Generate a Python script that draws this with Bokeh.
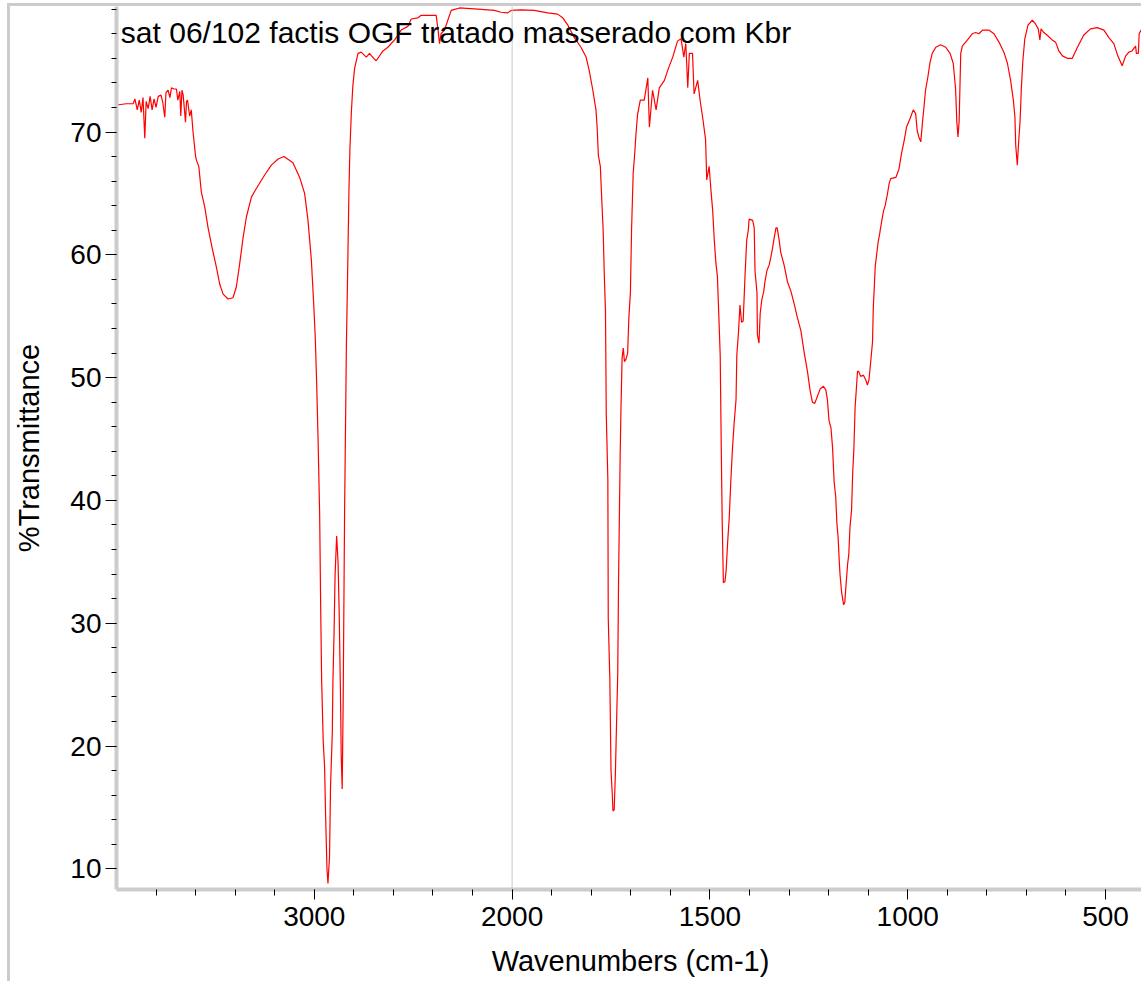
import numpy as np
from bokeh.plotting import figure
from bokeh.models import Range1d, FixedTicker, Span, Label
from bokeh.embed import file_html
from bokeh.resources import INLINE

# ---- data ----
wavenumbers = [
    4000, 3950, 3916, 3907, 3895, 3885, 3875, 3866, 3857, 3850, 3840, 3830, 3820, 3810, 3800,
    3789, 3775, 3766, 3756, 3750, 3739, 3730, 3722, 3710, 3697, 3690, 3680, 3675, 3669, 3663,
    3651, 3646, 3641, 3630, 3622, 3613, 3600, 3596, 3584, 3571, 3554, 3537, 3517, 3495, 3478,
    3461, 3436, 3411, 3394, 3377, 3360, 3343, 3318, 3293, 3251, 3217, 3183, 3153, 3108, 3074,
    3049, 3032, 3015, 3003, 2995, 2988, 2981, 2973, 2968, 2963, 2955, 2948, 2943, 2936, 2931,
    2923, 2918, 2909, 2906, 2900, 2895, 2887, 2880, 2874, 2870, 2867, 2864, 2859, 2854, 2847,
    2838, 2830, 2825, 2820, 2813, 2805, 2796, 2779, 2763, 2737, 2721, 2700, 2687, 2653, 2628,
    2594, 2561, 2527, 2510, 2476, 2460, 2400, 2384, 2375, 2367, 2359, 2342, 2325, 2308, 2266,
    2173, 2089, 2056, 2022, 2005, 1977, 1944, 1910, 1885, 1872, 1859, 1843, 1826, 1813, 1805,
    1796, 1788, 1785, 1782, 1777, 1773, 1770, 1767, 1764, 1762, 1758, 1757, 1753, 1750, 1747,
    1745, 1742, 1739, 1737, 1733, 1731, 1727, 1725, 1722, 1719, 1716, 1712, 1708, 1705, 1701,
    1698, 1694, 1690, 1687, 1683, 1676, 1666, 1657, 1653, 1645, 1636, 1628, 1615, 1607, 1594,
    1582, 1573, 1566, 1561, 1556, 1552, 1544, 1540, 1531, 1524, 1518, 1511, 1508, 1502, 1497,
    1493, 1489, 1485, 1481, 1477, 1474, 1471, 1469, 1466, 1462, 1459, 1455, 1451, 1447, 1443,
    1439, 1434, 1432, 1428, 1424, 1420, 1416, 1413, 1411, 1407, 1403, 1401, 1392, 1388, 1386,
    1381, 1380, 1376, 1373, 1369, 1364, 1361, 1356, 1350, 1346, 1342, 1338, 1333, 1330, 1325,
    1321, 1312, 1304, 1295, 1287, 1279, 1270, 1262, 1253, 1247, 1241, 1235, 1228, 1221, 1213,
    1207, 1203, 1199, 1194, 1190, 1186, 1182, 1179, 1176, 1173, 1171, 1167, 1162, 1159, 1156,
    1152, 1149, 1146, 1142, 1139, 1136, 1133, 1130, 1127, 1124, 1119, 1112, 1106, 1102, 1098,
    1093, 1089, 1087, 1082, 1079, 1075, 1071, 1066, 1061, 1057, 1051, 1047, 1043, 1030, 1022,
    1016, 1009, 1003, 994, 986, 980, 976, 972, 967, 963, 959, 955, 949, 944, 938,
    929, 917, 904, 893, 885, 879, 876, 873, 870, 866, 862, 849, 837, 828, 820,
    811, 795, 782, 769, 757, 748, 740, 733, 729, 727, 723, 720, 716, 713, 709,
    704, 696, 685, 677, 670, 666, 663, 656, 648, 635, 626, 618, 609, 597, 584,
    571, 555, 538, 521, 504, 492, 479, 469, 458, 449, 441, 433, 424, 422, 417,
    415, 410, 407, 403, 400,
]
transmittance = [
    72.2, 72.3, 72.3, 72.7, 71.8, 72.6, 71.6, 72.8, 69.5, 72.5, 71.9, 72.9, 71.8, 72.7, 72.0,
    72.9, 73.0, 72.4, 71.2, 73.2, 73.4, 72.8, 73.6, 73.5, 73.5, 72.6, 73.3, 71.3, 73.4, 73.0,
    70.8, 72.5, 72.6, 71.3, 71.8, 70.0, 68.0, 67.7, 67.2, 65.1, 63.9, 62.2, 60.6, 59.0, 57.6,
    56.8, 56.4, 56.5, 57.4, 59.3, 61.4, 63.1, 64.7, 65.4, 66.5, 67.3, 67.8, 68.0, 67.5, 66.3,
    65.0, 62.8, 59.6, 56.0, 53.2, 49.5, 45.0, 38.9, 31.6, 25.4, 20.4, 18.3, 14.4, 10.0, 8.8,
    11.0, 16.7, 21.1, 25.2, 29.3, 33.9, 37.1, 35.0, 30.7, 26.6, 23.4, 19.2, 16.5, 23.8, 38.9,
    52.3, 60.0, 65.1, 68.6, 71.5, 73.8, 75.2, 76.4, 76.5, 76.1, 76.4, 76.0, 75.8, 76.6, 76.9,
    77.5, 78.3, 78.6, 79.2, 79.3, 79.5, 79.5, 79.5, 78.4, 77.2, 78.0, 78.3, 79.1, 79.9, 80.1,
    80.0, 79.9, 79.75, 79.7, 79.9, 79.95, 79.9, 79.7, 79.6, 79.3, 78.7, 77.7, 76.9, 76.1, 75.0,
    73.4, 71.8, 70.3, 68.1, 67.2, 64.2, 62.1, 58.4, 55.4, 47.0, 41.7, 30.4, 25.5, 18.0, 16.2,
    14.7, 14.8, 17.7, 20.5, 25.9, 33.3, 43.4, 47.2, 51.6, 52.4, 51.3, 51.5, 52.0, 54.8, 56.9,
    62.1, 66.6, 68.3, 69.8, 71.4, 72.6, 72.6, 74.4, 70.4, 73.4, 71.8, 73.6, 74.2, 75.0, 76.1,
    77.4, 77.6, 76.1, 77.2, 73.6, 76.4, 76.4, 73.1, 74.2, 72.4, 71.1, 69.4, 66.1, 67.2, 65.1,
    63.6, 61.2, 59.4, 58.2, 54.6, 51.8, 43.4, 38.4, 33.3, 33.4, 34.3, 36.7, 38.7, 41.7, 44.2,
    46.2, 48.2, 51.8, 53.6, 55.9, 54.5, 54.6, 56.9, 58.5, 61.2, 62.0, 62.9, 62.8, 62.2, 58.7,
    56.9, 53.5, 52.8, 55.2, 56.3, 57.0, 57.8, 58.7, 59.2, 59.8, 60.5, 61.3, 62.2, 62.2, 61.2,
    60.2, 59.1, 57.8, 57.0, 56.0, 54.9, 53.8, 52.1, 50.4, 49.0, 48.0, 47.9, 48.5, 49.1, 49.3,
    49.0, 48.2, 46.5, 45.9, 44.3, 41.5, 40.3, 38.1, 37.0, 35.0, 33.9, 32.5, 31.5, 31.7, 33.1,
    34.8, 35.6, 37.8, 39.2, 42.3, 44.3, 47.6, 49.0, 50.5, 50.5, 50.1, 50.2, 49.8, 49.4, 49.8,
    51.5, 52.9, 55.7, 59.1, 59.9, 61.0, 61.7, 62.7, 63.6, 64.0, 65.0, 65.8, 66.2, 66.3, 67.0,
    68.2, 69.3, 70.4, 71.1, 71.8, 71.5, 70.1, 69.6, 69.2, 70.7, 72.0, 73.4, 74.5, 75.6, 76.4,
    76.9, 77.1, 76.9, 76.4, 75.6, 73.5, 70.9, 69.6, 70.9, 76.4, 77.0, 77.5, 78.0, 78.1, 78.0,
    78.3, 78.3, 78.0, 77.3, 76.5, 75.6, 74.2, 72.6, 71.2, 68.9, 67.3, 69.0, 70.9, 73.4, 75.8,
    77.6, 78.7, 79.1, 78.8, 78.4, 77.5, 78.4, 78.1, 77.9, 77.5, 77.3, 76.6, 76.2, 76.0, 76.0,
    76.9, 77.9, 78.4, 78.5, 78.3, 77.7, 77.2, 76.2, 75.4, 76.2, 76.5, 76.6, 77.0, 76.4, 76.4,
    78.0, 78.3, 77.8, 78.7, 78.7,
]
x_major_ticks = [3000, 2000, 1500, 1000, 500]
y_major_ticks = [10, 20, 30, 40, 50, 60, 70]
chart_title = "sat 06/102 factis OGF tratado masserado com Kbr"
x_label = "Wavenumbers (cm-1)"
y_label = "%Transmittance"
break_at = 2000  # scale is compressed 2x above this wavenumber


def expand(wn):
    wn = np.asarray(wn, dtype=float)
    return np.where(wn > break_at, break_at + (wn - break_at) / 2.0, wn)


FONT = "Liberation Sans"
W, H = 1134, 978
Y0, Y1 = 8.315, 80.22
p = figure(width=W, height=H, output_backend="svg", toolbar_location=None,
           x_range=Range1d(float(expand(4000)), 401.5), y_range=Range1d(Y0, Y1),
           min_border_left=105, min_border_right=0, min_border_top=0, min_border_bottom=95)
p.styles = {"margin-left": "7px", "margin-top": "3px",
            "border-left": "3px solid #cccccc", "border-top": "3px solid #cccccc"}
p.outline_line_color = None
p.xgrid.grid_line_color = None
p.ygrid.grid_line_color = None
p.background_fill_color = "white"
p.border_fill_color = "white"

p.add_layout(Span(location=break_at, dimension="height", line_color="#c8c8c8", line_width=1))

p.line(expand(wavenumbers), transmittance, line_color="#ff0000", line_width=1.2)

# x axis (tick positions in the expanded coordinate, labelled with real wavenumbers)
xt = [float(v) for v in expand(x_major_ticks)]
p.xaxis.ticker = FixedTicker(ticks=xt, minor_ticks=list(np.arange(500, 3000, 100)))
p.xaxis.major_label_overrides = {v: str(w) for v, w in zip(xt, x_major_ticks)}
# y axis
p.yaxis.ticker = FixedTicker(ticks=y_major_ticks, minor_ticks=list(range(10, 81, 2)))

for ax in (p.xaxis[0], p.yaxis[0]):
    ax.axis_line_color = "#cccccc"
    ax.axis_line_width = 4
    ax.major_tick_line_color = "black"
    ax.minor_tick_line_color = "black"
    ax.major_tick_in = 0
    ax.minor_tick_in = 0
    ax.major_label_text_font = FONT
    ax.major_label_text_font_size = "28px"
    ax.major_label_text_color = "black"
    ax.axis_label_text_font = FONT
    ax.axis_label_text_font_size = "29px"
    ax.axis_label_text_font_style = "normal"
    ax.axis_label_text_color = "black"

p.xaxis.major_tick_out = 10
p.xaxis.minor_tick_out = 6
p.xaxis.major_label_standoff = 7
p.xaxis.axis_label = x_label
p.xaxis.axis_label_standoff = 16
p.yaxis.major_tick_out = 11
p.yaxis.minor_tick_out = 5
p.yaxis.major_label_standoff = 4
p.yaxis.axis_label = y_label
p.yaxis.axis_label_standoff = 22

# chart title inside the frame
p.add_layout(Label(x=2989, y=Y1 - 9 / 12.28, text=chart_title, text_align="left",
                   text_baseline="top", text_font=FONT, text_font_size="30px",
                   text_color="black"))

open("out.html", "w").write(file_html(p, INLINE))
